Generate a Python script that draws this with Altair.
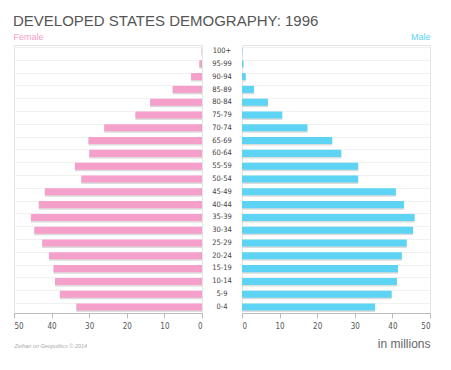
import altair as alt
import pandas as pd

ages = ["100+", "95-99", "90-94", "85-89", "80-84", "75-79", "70-74", "65-69",
        "60-64", "55-59", "50-54", "45-49", "40-44", "35-39", "30-34", "25-29",
        "20-24", "15-19", "10-14", "5-9", "0-4"]
female = [0.1, 0.7, 2.9, 7.8, 13.8, 17.7, 26.0, 30.2, 30.0, 33.8, 32.1, 41.8,
          43.4, 45.5, 44.6, 42.5, 40.7, 39.5, 39.1, 37.8, 33.4]
male = [0.1, 0.4, 1.0, 3.2, 6.9, 10.7, 17.4, 24.0, 26.4, 30.9, 30.9, 40.9,
        43.1, 45.9, 45.5, 43.8, 42.5, 41.5, 41.2, 39.8, 35.4]
ticks = [0, 10, 20, 30, 40, 50]

df = pd.DataFrame({"age": ages, "female": female, "male": male})

PINK = "#f5a0ca"
CYAN = "#5ed4f5"
FONT = "Liberation Sans"
NARROW = "DejaVu Sans Condensed, Liberation Sans Narrow, sans-serif"
PW = 188
PH = 268

yenc = alt.Y("age:N", sort=ages, title=None,
             scale=alt.Scale(paddingInner=0.45, paddingOuter=0.19),
             axis=alt.Axis(labels=False, ticks=False, domain=False, grid=True,
                           gridColor="#f1f1f1", bandPosition=0))

def xaxis(title, tx, align, size, color, style):
    return alt.Axis(values=ticks, grid=False, domainColor="#bbbbbb", tickColor="#bbbbbb",
                    tickSize=5, labelFont=NARROW, labelFontSize=8, labelColor="#555555",
                    labelPadding=4, title=title, titleX=tx, titleY=34,
                    titleAlign=align, titleBaseline="alphabetic", titleFont=FONT,
                    titleFontSize=size, titleColor=color, titleFontWeight="normal",
                    titleFontStyle=style)

left_base = alt.Chart(df).encode(
    x=alt.X("female:Q", scale=alt.Scale(domain=[0, 50], reverse=True, nice=False),
            axis=xaxis("Zelhan on Geopolitics © 2014", 0, "left", 5.5, "#aaaaaa", "italic")),
    y=yenc,
)
left = alt.layer(
    left_base.mark_bar(color="#dcdcdc", yOffset=1.5),
    left_base.mark_bar(color=PINK),
).properties(width=PW, height=PH,
             title=alt.TitleParams("Female", anchor="start", color=PINK, fontSize=9,
                                   font=FONT, fontWeight="normal", offset=3))

right_base = alt.Chart(df).encode(
    x=alt.X("male:Q", scale=alt.Scale(domain=[0, 50], nice=False),
            axis=xaxis("in millions", PW, "right", 12, "#666666", "normal")),
    y=yenc,
)
right = alt.layer(
    right_base.mark_bar(color="#dcdcdc", yOffset=1.5),
    right_base.mark_bar(color=CYAN),
).properties(width=PW, height=PH,
             title=alt.TitleParams("Male", anchor="end", color=CYAN, fontSize=9,
                                   font=FONT, fontWeight="normal", offset=3))

mid = alt.Chart(df).mark_text(font=NARROW, fontSize=7.5, color="#444444").encode(
    y=alt.Y("age:N", sort=ages, axis=None,
            scale=alt.Scale(paddingInner=0.45, paddingOuter=0.19)),
    text="age:N",
).properties(width=36, height=PH, view=alt.ViewConfig(stroke="transparent"),
             title=alt.TitleParams(" ", fontSize=9, offset=3))

chart = alt.hconcat(left, mid, right, spacing=0).properties(
    title=alt.TitleParams("DEVELOPED STATES DEMOGRAPHY: 1996", anchor="start",
                          font=FONT, fontSize=15, fontWeight="normal",
                          color="#555555", offset=4)
).configure_view(stroke="#e4e4e4").configure_concat(spacing=0)

chart.save("out.html", embed_options={"renderer": "svg", "actions": False})
